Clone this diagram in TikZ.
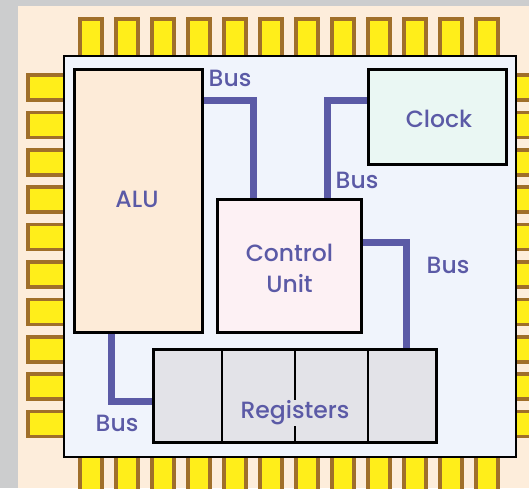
\documentclass[tikz,border=0pt]{standalone}
\usepackage{fontspec}
\setmainfont{Poppins Medium}
\definecolor{bgray}{HTML}{CCCDCE}
\definecolor{peach}{HTML}{FDEDDB}
\definecolor{pinfill}{HTML}{FFEE1A}
\definecolor{pinedge}{HTML}{A06F2A}
\definecolor{chipfill}{HTML}{F0F4FC}
\definecolor{alufill}{HTML}{FDEBD8}
\definecolor{cufill}{HTML}{FDF1F4}
\definecolor{clkfill}{HTML}{EAF7F3}
\definecolor{regfill}{HTML}{E3E3E8}
\definecolor{buscol}{HTML}{5B5AA6}
\tikzset{
  pin/.style={draw=pinedge, fill=pinfill, line width=3.5pt},
  blk/.style={draw=black, line width=2pt, rectangle, inner sep=0pt},
  bus/.style={draw=buscol, line width=7pt, line join=miter},
  lbl/.style={text=buscol, font=\fontsize{23.5}{31}\selectfont, inner sep=1pt, align=center},
}
\begin{document}
\begin{tikzpicture}[x=1pt,y=-1pt]
\useasboundingbox (0,0) rectangle (529,488);
\fill[bgray] (0,0) rectangle (529,488);
\fill[peach] (18,6) rectangle (529,488);
% pins top/bottom
\foreach \i in {0,...,11}{
  \draw[pin] ({80+36*\i},19) rectangle ({102+36*\i},60);
  \draw[pin] ({80+36*\i},452) rectangle ({102+36*\i},495);
}
% pins left/right
\foreach \i in {0,...,9}{
  \draw[pin] (28,{75+37.4*\i}) rectangle (68,{100+37.4*\i});
  \draw[pin] (512,{75+37.4*\i}) rectangle (535,{100+37.4*\i});
}
\node[blk, fill=chipfill, minimum width=452, minimum height=401] (chip) at (290,256.5) {};
% bus corner points
\coordinate (b1) at (253,100);
\coordinate (b2) at (327,100);
\coordinate (b3) at (406,242);
\coordinate (b4) at (111,401);
\node[blk, fill=alufill, minimum width=127, minimum height=262] (alu) at (138.5,201) {};
\node[blk, fill=cufill, minimum width=143, minimum height=132] (cu) at (289.5,266) {};
\node[blk, fill=clkfill, minimum width=137, minimum height=94] (clk) at (437.5,117) {};
\node[blk, fill=regfill, minimum width=282, minimum height=92] (reg) at (295,396) {};
% buses
\draw[bus] (alu.east |- b1) -- (b1) -- (cu.north -| b1);
\draw[bus] (cu.north -| b2) -- (b2) -- (clk.west |- b2);
\draw[bus] (cu.east |- b3) -- (b3) -- (reg.north -| b3);
\draw[bus] (alu.south -| b4) -- (b4) -- (reg.west |- b4);
% redraw block borders over bus ends
\draw[black, line width=2pt] (alu.north west) rectangle (alu.south east);
\draw[black, line width=2pt] (cu.north west) rectangle (cu.south east);
\draw[black, line width=2pt] (clk.north west) rectangle (clk.south east);
\draw[black, line width=2pt] (reg.north west) rectangle (reg.south east);
% register dividers
\foreach \x in {222,295,368}{
  \draw[black, line width=2pt] (\x,350) -- (\x,442);
}
% labels
\node[lbl] (talu) at (137,199) {ALU};
\node[lbl] (tcu) at (289.5,268) {Control\\Unit};
\node[lbl] (tclk) at (439,119) {Clock};
\node[lbl, fill=regfill] (treg) at (295,413) {Registers};
\node[lbl] (l1) at (230,78) {Bus};
\node[lbl] (l2) at (357,180) {Bus};
\node[lbl] (l3) at (448,265) {Bus};
\node[lbl] (l4) at (117,423) {Bus};
\end{tikzpicture}
\end{document}
